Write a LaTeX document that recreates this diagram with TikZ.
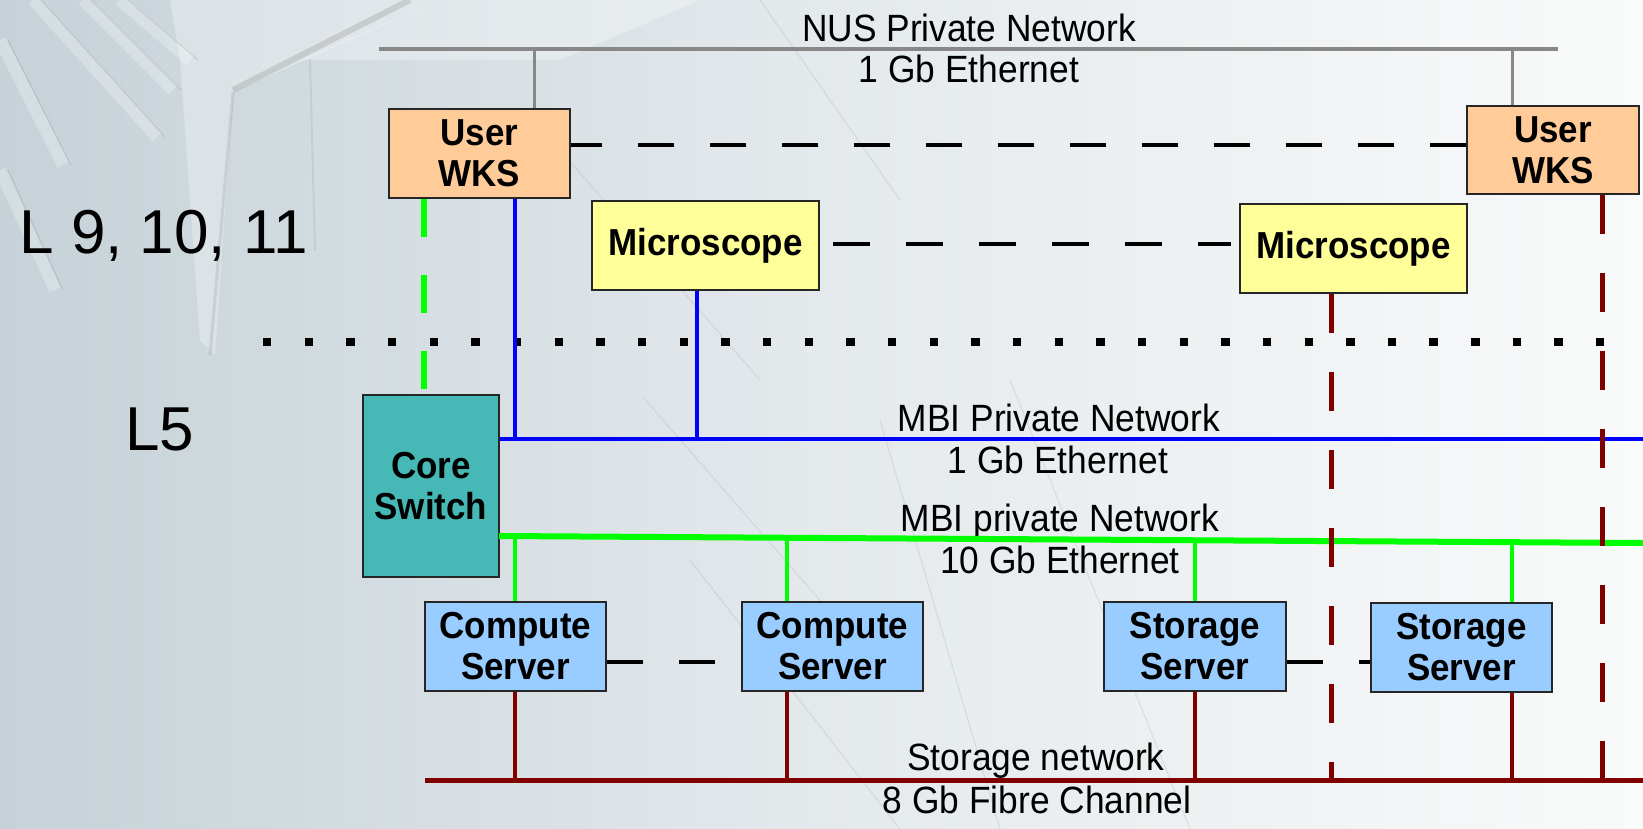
\documentclass[tikz,border=0pt]{standalone}
\usepackage{fontspec}
\setmainfont{Liberation Sans}
\newfontfamily\narrowsans{Liberation Sans}[FakeStretch=0.93]
\definecolor{wks}{RGB}{255,204,153}
\definecolor{mic}{RGB}{255,255,153}
\definecolor{coreC}{RGB}{70,184,182}
\definecolor{srv}{RGB}{153,204,255}
\definecolor{fc}{RGB}{128,0,0}
\definecolor{gbus}{RGB}{0,255,0}
\definecolor{nusC}{RGB}{136,136,136}
\definecolor{bgL}{RGB}{198,210,216}
\definecolor{bgM}{RGB}{228,233,236}
\definecolor{bgR}{RGB}{249,250,250}
\begin{document}
\begin{tikzpicture}[x=0.5pt,y=-0.5pt,
  box/.style={draw=black!85, line width=0.75pt, inner sep=0pt, align=center,
    font=\narrowsans\bfseries\fontsize{18.8}{20.5}\selectfont},
  lbl/.style={inner sep=0pt, anchor=base, font=\narrowsans\fontsize{19}{20}\selectfont},
  floor/.style={inner sep=0pt, anchor=base west, font=\fontsize{31}{34}\selectfont},
  nusline/.style={draw=nusC, line width=2pt},
  nusdrop/.style={draw=nusC, line width=1.5pt},
  bluebus/.style={draw=blue, line width=2.25pt},
  bluedrop/.style={draw=blue, line width=1.75pt},
  greenbus/.style={draw=gbus, line width=3pt},
  greendrop/.style={draw=gbus, line width=2pt},
  greendash/.style={draw=gbus, line width=3pt, dash pattern=on 19pt off 19pt},
  fcbus/.style={draw=fc, line width=2.5pt},
  fcdrop/.style={draw=fc, line width=2.25pt},
  fcdash/.style={draw=fc, line width=2.5pt, dash pattern=on 19.5pt off 19.5pt},
  blackdash/.style={draw=black, line width=2pt, dash pattern=on 18pt off 18pt},
  floorsep/.style={draw=black, line width=4.2pt, dash pattern=on 4.2pt off 16.63pt}]
\useasboundingbox (0,0) rectangle (1643,829);
% background
\shade[left color=bgL, right color=bgR, middle color=bgM] (0,0) rectangle (1643,829);
\fill[white, opacity=0.3] (170,0) -- (440,0) -- (233,92) -- (215,355) -- (200,340) -- (180,60) -- cycle;
\fill[white, opacity=0.3] (440,0) -- (700,0) -- (560,60) -- (300,60) -- cycle;
\foreach \a/\b/\c/\d in {0/40/63/165, 33/0/157/137, 83/0/173/90, 0/170/55/290, 120/0/190/60}{
  \draw[white, opacity=0.25, line width=6pt] (\a,\b) -- (\c,\d);
  \draw[gray, opacity=0.2, line width=0.6pt] (\a+8,\b) -- (\c+8,\d);
}
\draw[gray, opacity=0.25, line width=3pt] (233,90) -- (410,0);
\draw[gray, opacity=0.2, line width=1.5pt] (233,92) -- (210,355);
\draw[gray, opacity=0.15, line width=1pt] (310,60) -- (315,250);
\foreach \a/\b/\c/\d in {643/397/831/613, 690/560/900/829, 1010/380/1190/829, 560/150/760/380, 880/420/1000/829, 760/0/900/200}{
  \draw[gray, opacity=0.15, line width=0.6pt] (\a,\b) -- (\c,\d);
}
% nodes
\node[box, fill=wks, minimum width=90.5pt, minimum height=44.5pt] (wksL) at (479.5,153.5) {User\\WKS};
\node[box, fill=wks, minimum width=86pt, minimum height=44pt] (wksR) at (1553,150) {User\\WKS};
\node[box, fill=mic, minimum width=113.5pt, minimum height=44.5pt] (micL) at (705.5,245.5) {Microscope};
\node[box, fill=mic, minimum width=113.5pt, minimum height=44.5pt] (micR) at (1353.5,248.5) {Microscope};
\node[box, fill=coreC, minimum width=68pt, minimum height=91pt] (core) at (431,486) {Core\\Switch};
\node[box, fill=srv, minimum width=90.5pt, minimum height=44.5pt] (comp1) at (515.5,646.5) {Compute\\Server};
\node[box, fill=srv, minimum width=90.5pt, minimum height=44.5pt] (comp2) at (832.5,646.5) {Compute\\Server};
\node[box, fill=srv, minimum width=91pt, minimum height=44.5pt] (stor1) at (1195,646.5) {Storage\\Server};
\node[box, fill=srv, minimum width=90.5pt, minimum height=44.5pt] (stor2) at (1461.5,647.5) {Storage\\Server};
% labels
\node[lbl] (nus1) at (969,42) {NUS Private Network};
\node[lbl] (nus2) at (969,83) {1 Gb Ethernet};
\node[lbl] (mbi1) at (1059,431) {MBI Private Network};
\node[lbl] (mbi2) at (1058,473) {1 Gb Ethernet};
\node[lbl] (mbg1) at (1060,531) {MBI private Network};
\node[lbl] (mbg2) at (1060,573) {10 Gb Ethernet};
\node[lbl] (st1) at (1036,770) {Storage network};
\node[lbl] (st2) at (1037,813) {8 Gb Fibre Channel};
\node[floor] (fl1) at (19,253) {L 9, 10, 11};
\node[floor] (fl2) at (125,450) {L5};
% floor separator
\draw[floorsep] (263,342) -- (1604,342);
% NUS network
\coordinate (nusA) at (379,49);
\coordinate (nusB) at (1558,49);
\coordinate (nd1) at (534,49);
\coordinate (nd2) at (1512,49);
\draw[nusline] (nusA) -- (nusB);
\draw[nusdrop] (nd1) -- (nd1 |- wksL.north);
\draw[nusdrop] (nd2) -- (nd2 |- wksR.north);
% MBI 1 Gb (blue)
\coordinate (bR) at (1643,439);
\coordinate (b1) at (515,439);
\coordinate (b2) at (697,439);
\draw[bluebus] (bR -| core.east) -- (bR);
\draw[bluedrop] (b1 |- wksL.south) -- (b1);
\draw[bluedrop] (b2 |- micL.south) -- (b2);
% MBI 10 Gb (green)
\coordinate (gL) at (499,536);
\coordinate (gR) at (1643,543);
\coordinate (g1) at (515,536.1);
\coordinate (g2) at (787,537.8);
\coordinate (g3) at (1195,540.3);
\coordinate (g4) at (1512,542.2);
\draw[greenbus] (gL) -- (gR);
\draw[greendrop] (g1) -- (g1 |- comp1.north);
\draw[greendrop] (g2) -- (g2 |- comp2.north);
\draw[greendrop] (g3) -- (g3 |- stor1.north);
\draw[greendrop] (g4) -- (g4 |- stor2.north);
\coordinate (gd) at (424,300);
\draw[greendash] (gd |- wksL.south) -- (gd |- core.north);
% Storage network (fibre channel)
\coordinate (fL) at (425,780);
\coordinate (fR) at (1643,780);
\coordinate (f1) at (515,780);
\coordinate (f2) at (787,780);
\coordinate (f3) at (1195,780);
\coordinate (f4) at (1512,780);
\coordinate (f5) at (1331,780);
\coordinate (f6) at (1602,780);
\draw[fcbus] (fL) -- (fR);
\draw[fcdrop] (f1 |- comp1.south) -- (f1);
\draw[fcdrop] (f2 |- comp2.south) -- (f2);
\draw[fcdrop] (f3 |- stor1.south) -- (f3);
\draw[fcdrop] (f4 |- stor2.south) -- (f4);
\draw[fcdash] (f5 |- micR.south) -- (f5);
\draw[fcdash] (f6 |- wksR.south) -- (f6);
% black dashed links between peers
\draw[blackdash] (wksR.west |- 0,145) -- (wksL.east |- 0,145);
\draw[blackdash, dash pattern=on 18.5pt off 18pt, shorten <=6.5pt, shorten >=4pt] (micL.east |- 0,244) -- (micR.west |- 0,244);
\draw[blackdash] (comp1.east |- 0,662) -- (comp2.west |- 0,662);
\draw[blackdash] (stor1.east |- 0,662) -- (stor2.west |- 0,662);
\end{tikzpicture}
\end{document}
